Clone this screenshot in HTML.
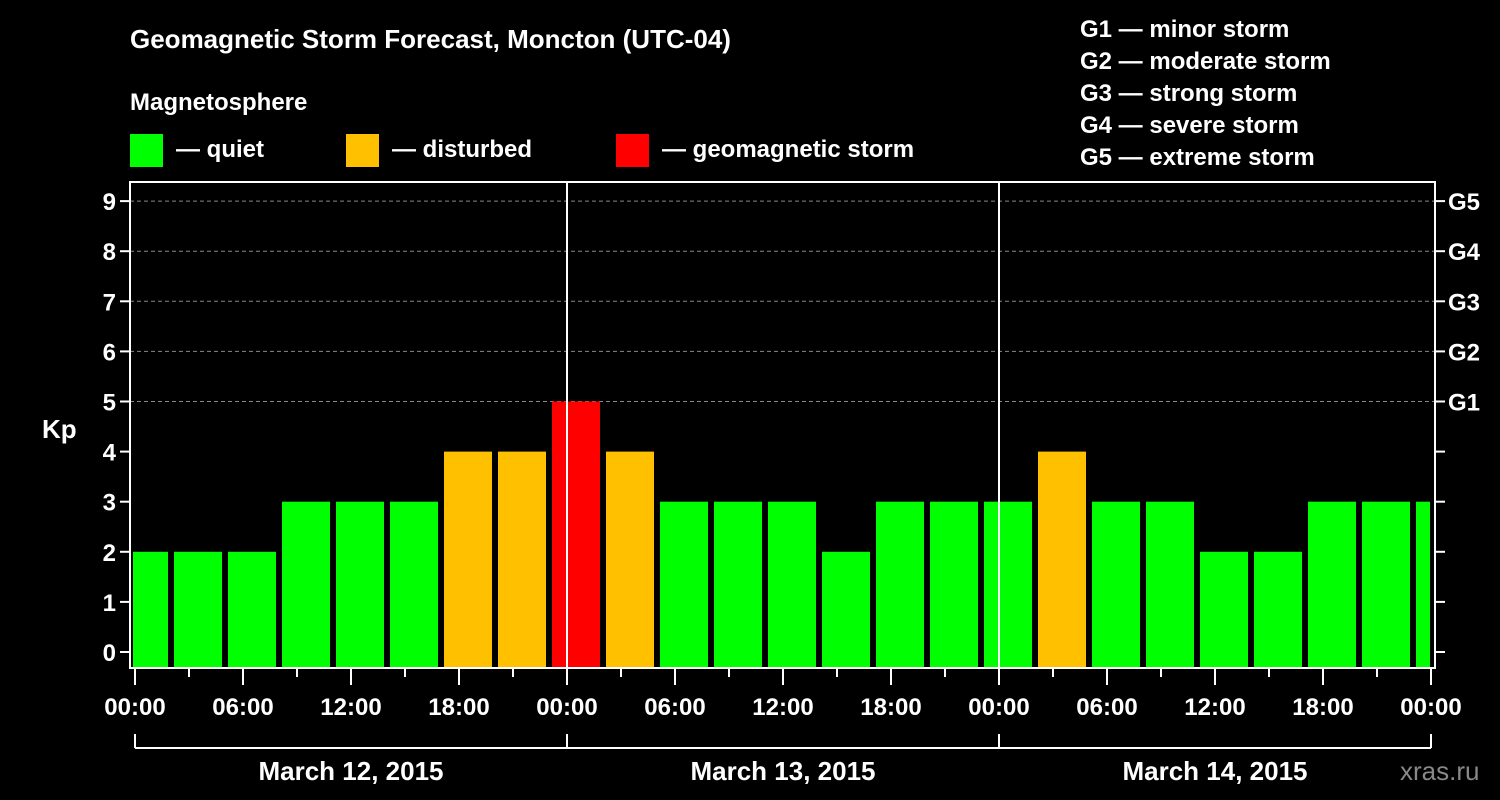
<!DOCTYPE html>
<html><head><meta charset="utf-8"><style>
body{margin:0;background:#000;}
svg{display:block;font-family:"Liberation Sans",sans-serif;font-weight:bold;}
</style></head><body>
<svg id="c" width="1500" height="800" viewBox="0 0 1500 800">
<rect width="1500" height="800" fill="#000"/>
<text x="130" y="48" fill="#fff" font-size="26">Geomagnetic Storm Forecast, Moncton (UTC-04)</text>
<text x="130" y="110" fill="#fff" font-size="24">Magnetosphere</text>
<g><rect x="130" y="134" width="33" height="33" fill="#00ff00"/><text x="176" y="157" fill="#fff" font-size="24">— quiet</text></g>
<g><rect x="346" y="134" width="33" height="33" fill="#ffc000"/><text x="392" y="157" fill="#fff" font-size="24">— disturbed</text></g>
<g><rect x="616" y="134" width="33" height="33" fill="#ff0000"/><text x="662" y="157" fill="#fff" font-size="24">— geomagnetic storm</text></g>
<g fill="#fff" font-size="24">
<text x="1080" y="37">G1 — minor storm</text><text x="1080" y="69">G2 — moderate storm</text><text x="1080" y="101">G3 — strong storm</text><text x="1080" y="133">G4 — severe storm</text><text x="1080" y="165">G5 — extreme storm</text></g>
<text x="42" y="438" fill="#fff" font-size="26">Kp</text>
<text x="1400" y="780" fill="#888" font-size="26" font-weight="normal">xras.ru</text>
<defs><clipPath id="pc"><rect x="133" y="182" width="1297" height="486"/></clipPath></defs>
<g id="grid"></g><g id="bars" clip-path="url(#pc)"></g><g id="axes"></g>
</svg>
<script>
const values=[2,2,2,3,3,3,4,4,5,4,3,3,3,2,3,3,3,4,3,3,2,2,3,3,3];
const yTicks=[0,1,2,3,4,5,6,7,8,9];
const gLabels=[[5,"G1"],[6,"G2"],[7,"G3"],[8,"G4"],[9,"G5"]];
const xLabels=["00:00","06:00","12:00","18:00","00:00","06:00","12:00","18:00","00:00","06:00","12:00","18:00","00:00"];
const days=["March 12, 2015","March 13, 2015","March 14, 2015"];
const NS="http://www.w3.org/2000/svg";
const X=h=>135+h*18, Y=v=>652-v*50.1;
const L=130,R=1435,T=182,B=668;
function mk(p,t,a){const e=document.createElementNS(NS,t);for(const k in a)e.setAttribute(k,a[k]);p.appendChild(e);return e;}
const grid=document.getElementById('grid'),bars=document.getElementById('bars'),axes=document.getElementById('axes');
for(const v of yTicks){if(v>=5){const g=mk(grid,'line',{x1:L,x2:R,y1:Y(v),y2:Y(v),stroke:'#888','stroke-dasharray':'4,3'});

}}
values.forEach((v,i)=>{const c=v>=5?'#ff0000':v==4?'#ffc000':'#00ff00';
const r=mk(bars,'rect',{x:X(i*3+0.5)-24,y:Y(v),width:48,height:B-Y(v),fill:c});

});
const fr=mk(axes,'rect',{x:L,y:T,width:R-L,height:B-T,fill:'none',stroke:'#fff','stroke-width':2});


[24,48].forEach(h=>{const l=mk(axes,'line',{x1:X(h),x2:X(h),y1:T,y2:B,stroke:'#fff','stroke-width':2});

});
for(const v of yTicks){mk(axes,'line',{x1:L-10,x2:L,y1:Y(v),y2:Y(v),stroke:'#fff','stroke-width':2});
mk(axes,'line',{x1:R,x2:R+10,y1:Y(v),y2:Y(v),stroke:'#fff','stroke-width':2});
const t=mk(axes,'text',{x:L-14,y:Y(v)+9,fill:'#fff','font-size':24,'text-anchor':'end'});t.textContent=v;

}
for(const [v,s] of gLabels){const t=mk(axes,'text',{x:1448,y:Y(v)+9,fill:'#fff','font-size':24});t.textContent=s;

}
for(let h=0;h<=72;h+=3){mk(axes,'line',{x1:X(h),x2:X(h),y1:B,y2:B+(h%6?9:17),stroke:'#fff','stroke-width':2});}
xLabels.forEach((s,i)=>{const t=mk(axes,'text',{x:X(i*6),y:715,fill:'#fff','font-size':24,'text-anchor':'middle'});t.textContent=s;

});
mk(axes,'line',{x1:X(0),x2:X(72),y1:748,y2:748,stroke:'#fff','stroke-width':2});
for(let d=0;d<=3;d++)mk(axes,'line',{x1:X(d*24),x2:X(d*24),y1:734,y2:748,stroke:'#fff','stroke-width':2});
days.forEach((s,i)=>{const t=mk(axes,'text',{x:X(i*24+12),y:780,fill:'#fff','font-size':26,'text-anchor':'middle'});t.textContent=s;

});
</script>
</body></html>
